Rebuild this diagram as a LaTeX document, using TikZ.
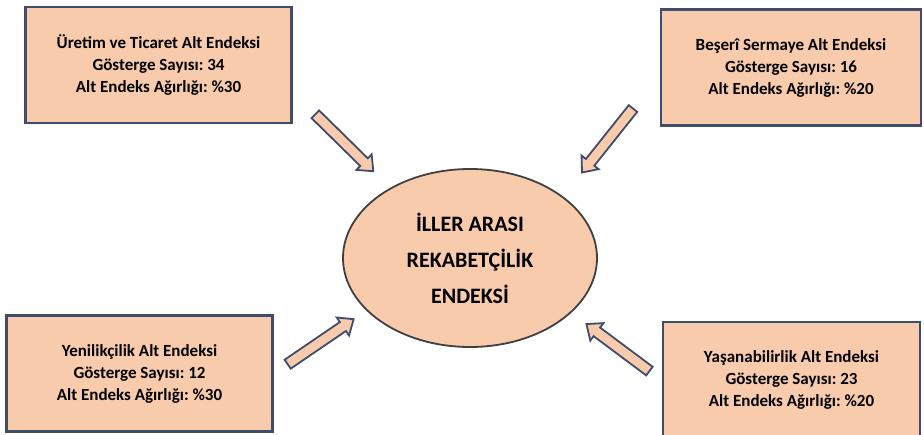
\documentclass[tikz,border=0pt]{standalone}
\usepackage{fontspec}
\setmainfont{Carlito}
\frenchspacing
\usetikzlibrary{positioning,calc,shapes.geometric,shapes.arrows}
\definecolor{peach}{HTML}{F8CBAD}
\definecolor{slate}{HTML}{3F4C6B}
\definecolor{rimgray}{HTML}{404040}
\tikzset{
  subbox/.style={draw=slate, line width=2.6pt, fill=peach, minimum width=#1,
    minimum height=116pt, align=center, inner sep=0pt,
    font=\bfseries\fontsize{17}{22}\selectfont},
  subbox/.default=266pt,
  mainellipse/.style={ellipse, draw=rimgray, line width=1.8pt, fill=peach,
    minimum width=254pt, minimum height=178pt, inner sep=0pt, align=center,
    font=\bfseries\fontsize{22}{36}\selectfont},
  blockarrow/.style={single arrow, draw=slate, line width=1.8pt, fill=peach,
    inner xsep=0pt, inner ysep=4.5pt, single arrow head extend=5.5pt,
    single arrow tip angle=80, minimum width=0pt}
}
% block arrow from tail to tip
\newcommand\blockarr[2]{%
  \path let \p1=($(#2)-(#1)$), \n1={atan2(\y1,\x1)}, \n2={veclen(\x1,\y1)} in
    node[blockarrow, minimum height=\n2, rotate=\n1] at ($(#1)!0.5!(#2)$) {};}
\begin{document}
\begin{tikzpicture}[x=1pt,y=-1pt]
  \useasboundingbox (0,0) rectangle (924,435);
  % sub indices
  \node[subbox] (uretim) at (158.5,65) {Üretim ve Ticaret Alt Endeksi\\Gösterge Sayısı: 34\\Alt Endeks Ağırlığı: \%30};
  \node[subbox=260pt] (beseri) at (791,67.5) {Beşerî Sermaye Alt Endeksi\\Gösterge Sayısı: 16\\Alt Endeks Ağırlığı: \%20};
  \node[subbox] (yenilik) at (139.5,373.5) {Yenilikçilik Alt Endeksi\\Gösterge Sayısı: 12\\Alt Endeks Ağırlığı: \%30};
  \node[subbox=257pt] (yasam) at (791.5,380) {Yaşanabilirlik Alt Endeksi\\Gösterge Sayısı: 23\\Alt Endeks Ağırlığı: \%20};
  % main index
  \node[mainellipse] (endeks) at (470,258) {İLLER ARASI\\REKABETÇİLİK\\ENDEKSİ};
  % arrows
  \coordinate (t1) at (313,112); \coordinate (h1) at (371,169);
  \coordinate (t2) at (635,106); \coordinate (h2) at (584,170);
  \coordinate (t3) at (285,366); \coordinate (h3) at (351,321);
  \coordinate (t4) at (652,373); \coordinate (h4) at (589,326);
  \blockarr{t1}{h1}
  \blockarr{t2}{h2}
  \blockarr{t3}{h3}
  \blockarr{t4}{h4}
\end{tikzpicture}
\end{document}
